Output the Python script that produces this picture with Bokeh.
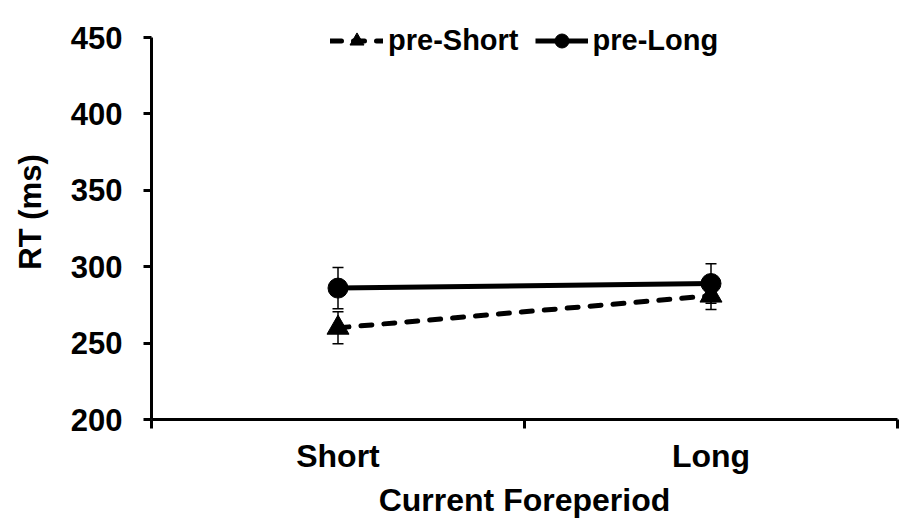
from bokeh.plotting import figure
from bokeh.models import (ColumnDataSource, Whisker, TeeHead, FixedTicker,
                          Legend, LegendItem)
from bokeh.embed import file_html
from bokeh.resources import INLINE

# ---- data ----
categories = ["Short", "Long"]
pre_short = [260, 281]
pre_short_err = [10.5, 9]
pre_long = [286, 289]
pre_long_err = [13.5, 13]
y_ticks = [200, 250, 300, 350, 400, 450]
series_labels = ["pre-Short", "pre-Long"]

FONT = "Liberation Sans"

x = [i + 0.5 for i in range(len(categories))]
bounds = [float(i) for i in range(len(categories) + 1)]

# range extends above 450 so the legend fits inside the (invisible) frame;
# the axis itself is bounded to 200..450
p = figure(width=900, height=522, x_range=(0, len(categories)),
           y_range=(200, 471.6),
           output_backend="svg", toolbar_location=None,
           min_border_left=151, min_border_right=3, min_border_top=4,
           min_border_bottom=103)
p.outline_line_color = None
p.xgrid.visible = False
p.ygrid.visible = False
p.background_fill_color = "white"
p.border_fill_color = "white"

# y axis
ya = p.yaxis[0]
ya.bounds = (y_ticks[0], y_ticks[-1])
ya.ticker = FixedTicker(ticks=y_ticks)
ya.axis_line_width = 3
ya.axis_line_color = "black"
ya.major_tick_line_width = 3
ya.major_tick_line_color = "black"
ya.major_tick_in = 0
ya.major_tick_out = 8
ya.minor_tick_line_color = None
ya.major_label_text_font = FONT
ya.major_label_text_font_style = "bold"
ya.major_label_text_font_size = "31px"
ya.major_label_text_color = "black"
ya.major_label_standoff = 21
ya.axis_label = "RT (ms)"
ya.axis_label_text_font = FONT
ya.axis_label_text_font_style = "bold"
ya.axis_label_text_font_size = "31px"
ya.axis_label_text_color = "black"
ya.axis_label_standoff = 20

# x axis
xa = p.xaxis[0]
xa.ticker = FixedTicker(ticks=x, minor_ticks=bounds)
xa.major_label_overrides = {x[i]: c for i, c in enumerate(categories)}
xa.axis_line_width = 3
xa.axis_line_color = "black"
xa.major_tick_line_color = None
xa.major_tick_in = 0
xa.major_tick_out = 9
xa.minor_tick_line_width = 3
xa.minor_tick_line_color = "black"
xa.minor_tick_in = 0
xa.minor_tick_out = 9
xa.major_label_text_font = FONT
xa.major_label_text_font_style = "bold"
xa.major_label_text_font_size = "32px"
xa.major_label_text_color = "black"
xa.major_label_standoff = 9
xa.axis_label = "Current Foreperiod"
xa.axis_label_text_font = FONT
xa.axis_label_text_font_style = "bold"
xa.axis_label_text_font_size = "32px"
xa.axis_label_text_color = "black"
xa.axis_label_standoff = 5

# error bars
for vals, errs in ((pre_short, pre_short_err), (pre_long, pre_long_err)):
    src = ColumnDataSource(dict(x=x,
                                upper=[v + e for v, e in zip(vals, errs)],
                                lower=[v - e for v, e in zip(vals, errs)]))
    w = Whisker(source=src, base="x", upper="upper", lower="lower",
                line_color="black", line_width=1.5,
                upper_head=TeeHead(size=11, line_width=1.5, line_color="black"),
                lower_head=TeeHead(size=11, line_width=1.5, line_color="black"))
    p.add_layout(w)

l1 = p.line(x, pre_short, line_width=5, line_color="black", line_dash="11 12",
            line_cap="round")
s1 = p.scatter(x, pre_short, marker="triangle", size=22, color="black")
l2 = p.line(x, pre_long, line_width=5, line_color="black")
s2 = p.scatter(x, pre_long, marker="circle", size=20, color="black")

legend = Legend(items=[LegendItem(label=series_labels[0], renderers=[l1, s1]),
                       LegendItem(label=series_labels[1], renderers=[l2, s2])],
                orientation="horizontal", location=(179, 361),
                glyph_width=53, glyph_height=35, label_standoff=5, spacing=16,
                padding=0, margin=0, border_line_color=None,
                background_fill_alpha=0,
                label_text_font=FONT, label_text_font_style="bold",
                label_text_font_size="29px", label_text_color="black")
p.add_layout(legend, "center")

open("out.html", "w").write(file_html(p, INLINE))
